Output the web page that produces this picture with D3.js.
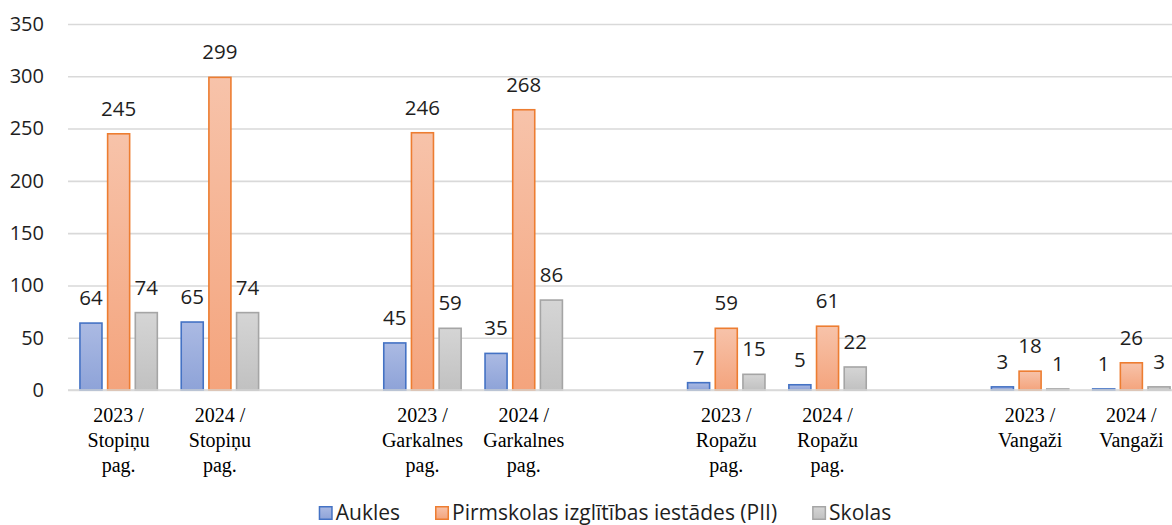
<!DOCTYPE html>
<html>
<head>
<meta charset="utf-8">
<script src="https://cdn.jsdelivr.net/npm/d3@7"></script>
<style>
  body { margin: 0; background: #fff; }
  svg { display: block; }
</style>
</head>
<body>
<script>
// kategorijas (tukšās ir atstarpes starp pagastiem)
var categories = [
  ["2023 /", "Stopiņu", "pag."], ["2024 /", "Stopiņu", "pag."], [],
  ["2023 /", "Garkalnes", "pag."], ["2024 /", "Garkalnes", "pag."], [],
  ["2023 /", "Ropažu", "pag."], ["2024 /", "Ropažu", "pag."], [],
  ["2023 /", "Vangaži"], ["2024 /", "Vangaži"]
];
var seriesNames = ["Aukles", "Pirmskolas izglītības iestādes (PII)", "Skolas"];
var aukles = [64, 65, null, 45, 35, null, 7, 5, null, 3, 1];
var pii    = [245, 299, null, 246, 268, null, 59, 61, null, 18, 26];
var skolas = [74, 74, null, 59, 86, null, 15, 22, null, 1, 3];
var yTicks = [0, 50, 100, 150, 200, 250, 300, 350];

var w = 1172, h = 525;
var plotLeft = 68, plotRight = 1182, plotTop = 24, plotBottom = 390;

var fills = [["#abbae3", "#8ea3d8"], ["#f7c3aa", "#f4a47d"], ["#d5d5d5", "#c1c1c1"]];
var strokes = ["#4472c4", "#ed7d31", "#a5a5a5"];
var series = [aukles, pii, skolas];

var svg = d3.select("body").append("svg")
  .attr("width", w)
  .attr("height", h);

var defs = svg.append("defs");
fills.forEach(function(f, i) {
  var g = defs.append("linearGradient")
    .attr("id", "grad" + i)
    .attr("x1", 0).attr("y1", 0).attr("x2", 0).attr("y2", 1);
  g.append("stop").attr("offset", "0%").attr("stop-color", f[0]);
  g.append("stop").attr("offset", "100%").attr("stop-color", f[1]);
});

var x = d3.scaleBand()
  .domain(d3.range(categories.length))
  .range([plotLeft, plotRight])
  .padding(0);

var xSub = d3.scaleBand()
  .domain(d3.range(seriesNames.length))
  .range([11.2, x.bandwidth() - 11.2])
  .paddingInner(0.15);

var y = d3.scaleLinear()
  .domain([0, 350])
  .range([plotBottom, plotTop]);

// y ass ar režģa līnijām
var yAxis = svg.append("g")
  .attr("transform", "translate(" + plotLeft + ",0)")
  .call(d3.axisLeft(y).tickValues(yTicks).tickSize(-(plotRight - plotLeft)).tickPadding(24));
yAxis.select(".domain").remove();
yAxis.selectAll(".tick line")
  .attr("stroke", "#d9d9d9")
  .attr("stroke-width", 1.6);
yAxis.selectAll(".tick text")
  .attr("fill", "#1e1e1e")
  .style("font-family", "'Open Sans', sans-serif")
  .style("font-size", "20px");

// stabiņi
series.forEach(function(values, s) {
  var data = values.map(function(v, i) { return { i: i, v: v }; })
    .filter(function(d) { return d.v !== null; });

  svg.append("g").selectAll("rect")
    .data(data)
    .enter()
    .append("rect")
    .attr("x", function(d) { return x(d.i) + xSub(s) + 0.75; })
    .attr("y", function(d) { return y(d.v); })
    .attr("width", xSub.bandwidth() - 1.5)
    .attr("height", function(d) { return y(0) - y(d.v); })
    .attr("fill", "url(#grad" + s + ")")
    .attr("stroke", strokes[s])
    .attr("stroke-width", 1.6);

  svg.append("g").selectAll("text")
    .data(data)
    .enter()
    .append("text")
    .text(function(d) { return d.v; })
    .attr("x", function(d) { return x(d.i) + xSub(s) + xSub.bandwidth() / 2; })
    .attr("y", function(d) { return y(d.v) - 18; })
    .attr("text-anchor", "middle")
    .attr("fill", "#1e1e1e")
    .style("font-family", "'Open Sans', sans-serif")
    .style("font-size", "20.5px");
});

// nulles līnija
svg.append("line")
  .attr("x1", plotLeft).attr("x2", plotRight)
  .attr("y1", y(0)).attr("y2", y(0))
  .attr("stroke", "#d9d9d9")
  .attr("stroke-width", 1.6);

// x ass etiķetes
var xAxis = svg.append("g")
  .attr("transform", "translate(0," + plotBottom + ")")
  .call(d3.axisBottom(x).tickSize(0).tickFormat(""));
xAxis.select(".domain").remove();
xAxis.selectAll(".tick text").remove();
xAxis.selectAll(".tick").each(function(i) {
  var t = d3.select(this).append("text")
    .attr("text-anchor", "middle")
    .attr("fill", "#000")
    .style("font-family", "'Liberation Serif', 'Times New Roman', serif")
    .style("font-size", "20px");
  categories[i].forEach(function(line, k) {
    t.append("tspan")
      .attr("x", 0)
      .attr("y", 32 + k * 25)
      .text(line);
  });
});

// leģenda
var legend = svg.append("g");
var lx = 0;
seriesNames.forEach(function(name, s) {
  var item = legend.append("g").attr("transform", "translate(" + lx + ",0)");
  item.append("rect")
    .attr("x", 0.75).attr("y", 506.75)
    .attr("width", 12.5).attr("height", 12.5)
    .attr("fill", "url(#grad" + s + ")")
    .attr("stroke", strokes[s])
    .attr("stroke-width", 1.5);
  var t = item.append("text")
    .attr("x", 17)
    .attr("y", 519.5)
    .attr("fill", "#1e1e1e")
    .style("font-family", "'Open Sans', sans-serif")
    .style("font-size", "21px")
    .text(name);
  lx += 17 + t.node().getComputedTextLength() + 35;
});
var lw = lx - 35;
legend.attr("transform", "translate(" + (605 - lw / 2) + ",0)");
</script>
</body>
</html>
